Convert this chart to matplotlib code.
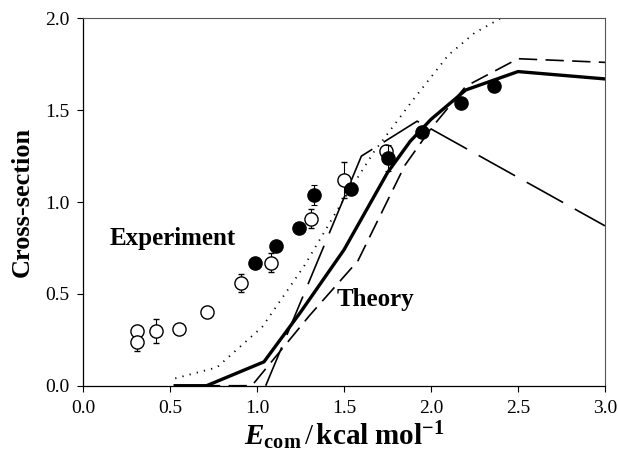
import numpy as np
import matplotlib.pyplot as plt

plt.rcParams['font.family'] = ['Liberation Serif', 'DejaVu Serif']
plt.rcParams['mathtext.fontset'] = 'custom'
plt.rcParams['mathtext.rm'] = 'Liberation Serif'
plt.rcParams['mathtext.bf'] = 'Liberation Serif:bold'
plt.rcParams['mathtext.it'] = 'Liberation Serif:italic'
plt.rcParams['mathtext.bfit'] = 'Liberation Serif:bold:italic'

# experiment, open circles
open_x = [0.31, 0.31, 0.42, 0.55, 0.71, 0.91, 1.08, 1.31, 1.50, 1.74]
open_y = [0.30, 0.24, 0.30, 0.31, 0.40, 0.56, 0.67, 0.91, 1.12, 1.28]
open_err = [0.0, 0.05, 0.065, 0.0, 0.0, 0.05, 0.05, 0.05, 0.10, 0.0]

# experiment, filled circles
fill_x = [0.99, 1.11, 1.24, 1.33, 1.54, 1.75, 1.95, 2.17, 2.36]
fill_y = [0.67, 0.76, 0.86, 1.04, 1.07, 1.24, 1.38, 1.54, 1.63]
fill_err = [0.0, 0.0, 0.0, 0.055, 0.0, 0.07, 0.0, 0.0, 0.0]

# theory curves
solid_x = [0.53, 0.71, 1.04, 1.25, 1.50, 1.75, 1.88, 2.00, 2.20, 2.50, 3.00]
solid_y = [0.00, 0.00, 0.13, 0.40, 0.74, 1.16, 1.33, 1.45, 1.61, 1.71, 1.67]

dot_x = [0.53, 0.77, 1.03, 1.27, 1.47, 1.67, 1.90, 2.10, 2.25, 2.40]
dot_y = [0.04, 0.10, 0.32, 0.65, 0.97, 1.27, 1.56, 1.80, 1.92, 2.00]

long_x = [1.05, 1.60, 1.92, 3.00]
long_y = [0.00, 1.25, 1.44, 0.87]

med_x = [0.53, 0.97, 1.30, 1.58, 1.85, 2.00, 2.20, 2.50, 3.00]
med_y = [0.00, 0.00, 0.38, 0.68, 1.20, 1.40, 1.63, 1.78, 1.76]

fig = plt.figure(figsize=(6.18, 4.54), dpi=100)
ax = fig.add_axes([0.1343, 0.1504, 0.8447, 0.8093])

ax.plot(dot_x, dot_y, color='black', lw=1.3, linestyle=(0, (0.7, 3.4)))
ax.plot(long_x, long_y, color='black', lw=1.2, dashes=(25, 8))
ax.plot(med_x, med_y, color='black', lw=1.2, dashes=(11, 5))
ax.plot(solid_x, solid_y, color='black', lw=2.4)

ax.errorbar(open_x, open_y, yerr=open_err, fmt='o', ms=9.5, mfc='white',
            mec='black', mew=1.0, ecolor='black', elinewidth=0.8, capsize=2.5,
            capthick=0.8, zorder=5)
ax.errorbar(fill_x, fill_y, yerr=fill_err, fmt='o', ms=9.5, mfc='black',
            mec='black', ecolor='black', elinewidth=0.8, capsize=2.5,
            capthick=0.8, zorder=6)

ax.text(0.155, 0.80, 'Experiment', fontsize=18, fontweight='bold', va='center')
ax.text(1.46, 0.47, 'Theory', fontsize=18, fontweight='bold', va='center')

ax.set_xlim(0, 3.0)
ax.set_ylim(0, 2.0)
ax.set_xticks(np.arange(0, 3.01, 0.5))
ax.set_yticks(np.arange(0, 2.01, 0.5))
ax.xaxis.set_major_formatter(plt.FormatStrFormatter('%.1f'))
ax.yaxis.set_major_formatter(plt.FormatStrFormatter('%.1f'))
ax.tick_params(direction='out', length=4, width=0.8, labelsize=14, pad=6)
for s in ['top', 'right']:
    ax.spines[s].set_color('#555555')
    ax.spines[s].set_linewidth(0.8)
for s in ['left', 'bottom']:
    ax.spines[s].set_linewidth(0.9)

ax.set_xlabel(r'$\mathbfit{E}_{\mathbf{com}}\,/\,\mathbf{kcal\ mol}^{\mathbf{-1}}$',
              fontsize=21, labelpad=2)
ax.set_ylabel('Cross-section', fontsize=19, fontweight='bold', labelpad=8)

fig.savefig('out.png', dpi=100)
